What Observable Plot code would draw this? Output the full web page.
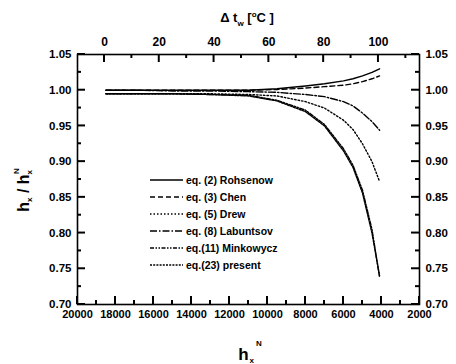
<!DOCTYPE html>
<html><head><meta charset="utf-8">
<script src="https://cdn.jsdelivr.net/npm/d3@7"></script>
<script src="https://cdn.jsdelivr.net/npm/@observablehq/plot@0.6"></script>
<style>
body{margin:0;background:#fff}
svg{font-family:"Liberation Sans",Arial,sans-serif;font-weight:bold}
</style>
</head><body><div id="chart"></div>
<script>
// bottom axis values h_x^N
const hN = [18500, 17000, 15000, 13000, 11000, 9500, 8000, 7000, 6000, 5500, 5000, 4500, 4100];
// series values h_x / h_x^N
const rohsenow   = [1.000, 1.000, 1.000, 1.000, 1.000, 1.002, 1.006, 1.009, 1.013, 1.016, 1.020, 1.025, 1.030];
const chen       = [1.000, 1.000, 1.000, 1.000, 1.000, 1.001, 1.003, 1.005, 1.007, 1.009, 1.012, 1.016, 1.020];
const drew       = [0.995, 0.995, 0.995, 0.995, 0.994, 0.992, 0.984, 0.975, 0.958, 0.945, 0.925, 0.900, 0.872];
const labuntsov  = [1.000, 1.000, 0.999, 0.999, 0.998, 0.997, 0.994, 0.991, 0.984, 0.978, 0.968, 0.956, 0.944];
const minkowycz  = [0.995, 0.995, 0.995, 0.994, 0.993, 0.986, 0.972, 0.952, 0.918, 0.895, 0.860, 0.805, 0.738];
const present    = [0.995, 0.995, 0.995, 0.994, 0.992, 0.985, 0.970, 0.950, 0.915, 0.892, 0.856, 0.800, 0.740];
const seriesNames = ["eq. (2) Rohsenow", "eq. (3) Chen", "eq. (5) Drew", "eq. (8) Labuntsov", "eq.(11) Minkowycz", "eq.(23) present"];
const seriesValues = [rohsenow, chen, drew, labuntsov, minkowycz, present];
const dashes = [null, "5,3", "1.5,2", "7,2,1.5,2", "4,1.5,1.5,1.5,1.5,1.5", "2,1.2"];

// tick labels
const hTicks = [20000, 18000, 16000, 14000, 12000, 10000, 8000, 6000, 4000, 2000];
const hMinor = [19000, 17000, 15000, 13000, 11000, 9000, 7000, 5000, 3000];
const dtTicks = [0, 20, 40, 60, 80, 100];
const dtMinor = [10, 30, 50, 70, 90, 110];
const yTicks = [0.70, 0.75, 0.80, 0.85, 0.90, 0.95, 1.00, 1.05];
const yMinor = [0.725, 0.775, 0.825, 0.875, 0.925, 0.975, 1.025];

// Δt_w (top axis) -> h_x^N (bottom axis) relation
const dtToH = t => 18580 - 144.2 * t;
const hToDt = h => Math.round((18580 - h) / 144.2);

const W = 456, H = 364, ML = 77, MR = 37, MT = 54, MB = 60;

const lineMarks = seriesValues.map((vals, i) =>
  Plot.line(hN.map((h, j) => ({h, v: vals[j]})), {
    x: "h", y: "v", stroke: "black", strokeWidth: 1.4,
    strokeDasharray: dashes[i] || undefined
  })
);

const plot = Plot.plot({
  width: W, height: H,
  marginLeft: ML, marginRight: MR, marginTop: MT, marginBottom: MB,
  style: {fontFamily: '"Liberation Sans", Arial, sans-serif', fontWeight: "bold", fontSize: "11px"},
  x: {type: "linear", domain: [20000, 2000]},
  y: {domain: [0.70, 1.05]},
  marks: [
    ...lineMarks,
    Plot.frame({stroke: "black", strokeWidth: 1.6}),
    Plot.axisX(hTicks, {anchor: "bottom", tickSize: 0, tickPadding: 6, tickFormat: d => String(d), label: null, fontSize: 11}),
    Plot.axisX(dtTicks.map(dtToH), {anchor: "top", tickSize: 0, tickPadding: 9, tickFormat: h => String(hToDt(h)), label: null, fontSize: 12}),
    Plot.axisY(yTicks, {anchor: "left", tickSize: 0, tickPadding: 6, tickFormat: d => d.toFixed(2), label: null, fontSize: 11.5}),
    Plot.axisY(yTicks, {anchor: "right", tickSize: 0, tickPadding: 6, tickFormat: d => d.toFixed(2), label: null, fontSize: 11.5})
  ]
});
document.getElementById("chart").appendChild(plot);

const svg = d3.select(plot);
const sx = v => plot.scale("x").apply(v);
const sy = v => plot.scale("y").apply(v);
const x0 = ML, x1 = W - MR, y0 = H - MB, y1 = MT;

// inward ticks, placed through the plot's scales
const tg = svg.append("g").attr("stroke", "black").attr("stroke-width", 2).attr("fill", "none");
const addX = (vals, yy, len) => vals.forEach(v => tg.append("line").attr("x1", sx(v)).attr("x2", sx(v)).attr("y1", yy).attr("y2", yy + len));
const addY = (vals, xx, len) => vals.forEach(v => tg.append("line").attr("y1", sy(v)).attr("y2", sy(v)).attr("x1", xx).attr("x2", xx + len));
addX(hTicks, y0, -8); addX(hMinor, y0, -4);
addX(dtTicks.map(dtToH), y1, 8); addX(dtMinor.map(dtToH), y1, 4);
addY(yTicks, x0, 8); addY(yMinor, x0, 4);
addY(yTicks, x1, -8); addY(yMinor, x1, -4);

// top title: Δ t_w [°C]
const tt = svg.append("text").attr("x", 247).attr("y", 22).attr("text-anchor", "middle")
  .attr("font-size", 13).attr("font-weight", "bold").attr("fill", "black");
tt.append("tspan").text("Δ t");
tt.append("tspan").attr("font-size", 8).attr("dy", 4).text("w");
tt.append("tspan").attr("dy", -4).text(" [");
tt.append("tspan").attr("font-size", 8).attr("dy", -5).text("o");
tt.append("tspan").attr("dy", 5).text("C ]");

// bottom title: h_x^N
const bt = svg.append("text").attr("x", 250).attr("y", 360).attr("text-anchor", "middle")
  .attr("font-size", 17).attr("font-weight", "bold").attr("fill", "black");
bt.append("tspan").text("h");
bt.append("tspan").attr("font-size", 8).attr("dy", 3).attr("dx", 1).text("x");
bt.append("tspan").attr("font-size", 8).attr("dy", -17).attr("dx", 2).text("N");

// left title: h_x / h_x^N
const lt = svg.append("text").attr("transform", "translate(29,190) rotate(-90)").attr("text-anchor", "middle")
  .attr("font-size", 16).attr("font-weight", "bold").attr("fill", "black");
lt.append("tspan").text("h");
lt.append("tspan").attr("font-size", 8).attr("dy", 3).text("x");
lt.append("tspan").attr("dy", -3).text(" / h");
lt.append("tspan").attr("font-size", 8).attr("dy", 3).text("x");
lt.append("tspan").attr("font-size", 8).attr("dy", -13).attr("dx", -4).text("N");

// legend
const lg = svg.append("g").attr("font-size", 10.5).attr("font-weight", "bold").attr("fill", "black").attr("text-anchor", "start");
seriesNames.forEach((name, i) => {
  const y = 180 + i * 17;
  lg.append("line").attr("x1", 150).attr("x2", 183).attr("y1", y).attr("y2", y)
    .attr("stroke", "black").attr("stroke-width", 1.4).attr("stroke-dasharray", dashes[i]);
  lg.append("text").attr("x", 186).attr("y", y).attr("dy", "0.35em").attr("text-anchor", "start").text(name);
});
</script>
</body></html>
